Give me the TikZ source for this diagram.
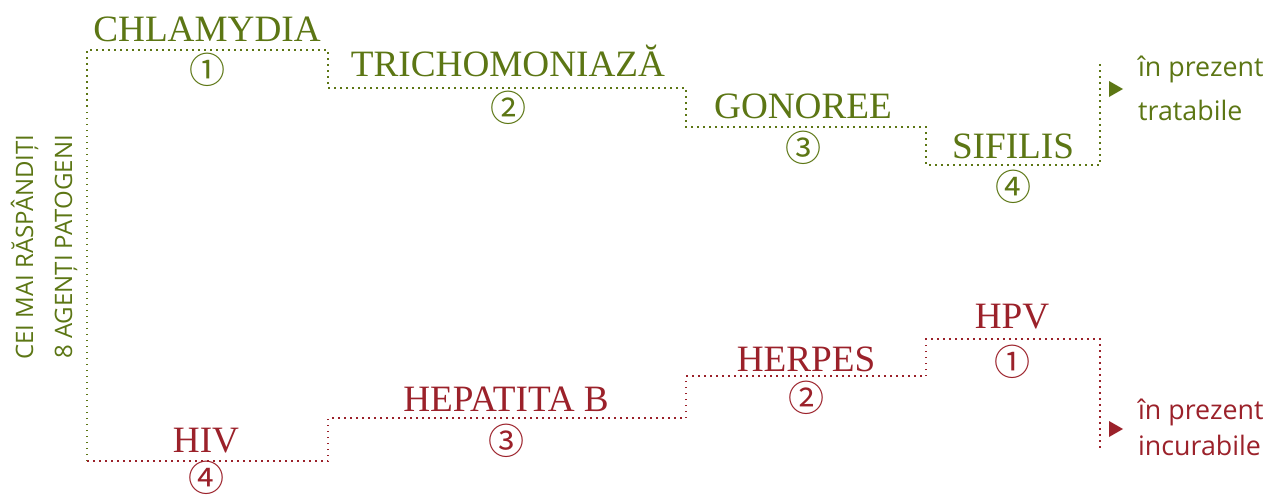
\documentclass[tikz,border=0pt]{standalone}
\usepackage{fontspec}
\setmainfont{Liberation Serif}
\newfontfamily\labelsans{Open Sans}
\newfontfamily\circfont{Noto Sans CJK SC}
\definecolor{ggreen}{RGB}{92,118,20}
\definecolor{rred}{RGB}{155,33,42}
\begin{document}
\begin{tikzpicture}[x=1pt,y=-1pt,
  dots/.style={line width=1.5pt, dash pattern=on 1.5pt off 4.5pt},
  agent/.style={font=\fontsize{37.2}{37.2}\selectfont, inner sep=0pt, anchor=base},
  rank/.style={font=\circfont\fontsize{36}{36}\selectfont, inner sep=0pt, anchor=base, text depth=0pt, yshift=-13.7pt},
  side/.style={font=\labelsans\fontsize{26.8}{26.8}\selectfont, inner sep=0pt, anchor=base west},
  vert/.style={font=\labelsans\fontsize{24}{24}\selectfont, inner sep=0pt, anchor=base, rotate=90, text=ggreen}]
\useasboundingbox (0,0) rectangle (1271,495);

% corner coordinates, green (treatable) path
\coordinate (g0) at (87,461);
\coordinate (g1) at (87,50);
\coordinate (g2) at (328,50);
\coordinate (g3) at (328,88);
\coordinate (g4) at (686,88);
\coordinate (g5) at (686,127);
\coordinate (g6) at (926,127);
\coordinate (g7) at (926,165);
\coordinate (g8) at (1100,165);
\coordinate (g9) at (1100,60);
% red (incurable) path
\coordinate (r1) at (328,461);
\coordinate (r2) at (328,418);
\coordinate (r3) at (686,418);
\coordinate (r4) at (686,376);
\coordinate (r5) at (926,376);
\coordinate (r6) at (926,339);
\coordinate (r7) at (1100,339);
\coordinate (r8) at (1100,448);

\draw[dots, ggreen] (g0) -- (g1) -- (g2) -- (g3) -- (g4) -- (g5) -- (g6) -- (g7) -- (g8) -- (g9);
\draw[dots, rred] (g0) -- (r1) -- (r2) -- (r3) -- (r4) -- (r5) -- (r6) -- (r7) -- (r8);

% left title
\node[vert] (t1) at (33,247) {CEI MAI RĂSPÂNDIȚI};
\node[vert] (t2) at (72,247) {8 AGENȚI PATOGENI};

% treatable
\node[agent, text=ggreen] (chl) at (207,42) {CHLAMYDIA};
\node[rank, text=ggreen] (n1) at (207,70) {①};
\node[agent, text=ggreen] (tri) at (508,77) {TRICHOMONIAZĂ};
\node[rank, text=ggreen] (n2) at (508,108) {②};
\node[agent, text=ggreen] (gon) at (803,118) {GONOREE};
\node[rank, text=ggreen] (n3) at (803,148) {③};
\node[agent, text=ggreen] (sif) at (1013,158) {SIFILIS};
\node[rank, text=ggreen] (n4) at (1013,187) {④};

% incurable
\node[agent, text=rred] (hpv) at (1012,328) {HPV};
\node[rank, text=rred] (m1) at (1012,362) {①};
\node[agent, text=rred] (her) at (806,371) {HERPES};
\node[rank, text=rred] (m2) at (806,398) {②};
\node[agent, text=rred] (hep) at (506,411) {HEPATITA B};
\node[rank, text=rred] (m3) at (506,441) {③};
\node[agent, text=rred] (hiv) at (206,452) {HIV};
\node[rank, text=rred] (m4) at (206,478) {④};

% right legend
\fill[ggreen] (1109,81) -- (1123,89) -- (1109,97) -- cycle;
\node[side, text=ggreen] (ga) at (1138,77) {în prezent};
\node[side, text=ggreen] (gb) at (1138,120) {tratabile};
\fill[rred] (1109,421) -- (1123,429) -- (1109,437) -- cycle;
\node[side, text=rred] (ra) at (1138,419) {în prezent};
\node[side, text=rred] (rb) at (1138,455) {incurabile};
\end{tikzpicture}
\end{document}
